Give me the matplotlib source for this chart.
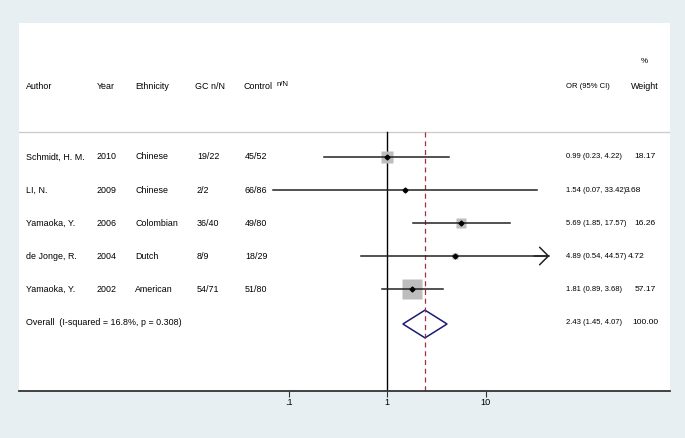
import numpy as np
import matplotlib
matplotlib.use("Agg")
import matplotlib.pyplot as plt
from matplotlib import font_manager
from matplotlib.transforms import blended_transform_factory

plt.rcParams['font.family'] = ['Liberation Sans', 'DejaVu Sans']

authors = ["Schmidt, H. M.", "LI, N.", "Yamaoka, Y.", "de Jonge, R.", "Yamaoka, Y."]
years = ["2010", "2009", "2006", "2004", "2002"]
ethnicity = ["Chinese", "Chinese", "Colombian", "Dutch", "American"]
gc_nN = ["19/22", "2/2", "36/40", "8/9", "54/71"]
ctrl_nN = ["45/52", "66/86", "49/80", "18/29", "51/80"]
odds = [0.99, 1.54, 5.69, 4.89, 1.81]
ci_lo = [0.23, 0.07, 1.85, 0.54, 0.89]
ci_hi = [4.22, 33.42, 17.57, 44.57, 3.68]
weights = [18.17, 3.68, 16.26, 4.72, 57.17]
arrow_right = [False, False, False, True, False]

overall_label = "Overall  (I-squared = 16.8%, p = 0.308)"
overall_or, overall_lo, overall_hi = 2.43, 1.45, 4.07
overall_weight = 100.00

xticks = [0.1, 1, 10]
xticklabels = [".1", "1", "10"]

# x pixel of the weight text on each row (it follows the CI text)
weight_px = [634, 625, 634, 628, 635]
overall_weight_px = 632

# narrower face for the CI column if there is one
or_family = ['Liberation Sans']
fs_or = 5.5
try:
    font_manager.findfont(font_manager.FontProperties(family='Liberation Sans Narrow'),
                          fallback_to_default=False)
    or_family = ['Liberation Sans Narrow']
    fs_or = 6.3
except ValueError:
    pass

bg = '#e8eff2'
fig = plt.figure(figsize=(6.85, 4.38), dpi=100, facecolor=bg)
ax = fig.add_axes([19/685, 47/438, 651/685, 368/438])
ax.set_facecolor('white')
ax.set_xscale('log')
ax.set_xlim(10**-3.736, 10**2.873)
ax.set_ylim(7.09, -4.06)
for s in ['top', 'left', 'right']:
    ax.spines[s].set_visible(False)
ax.spines['bottom'].set_color('#333333')
ax.spines['bottom'].set_linewidth(1.3)
ax.set_yticks([])
ax.set_xticks(xticks)
ax.set_xticklabels(xticklabels, fontsize=6.6)
ax.minorticks_off()
ax.tick_params(axis='x', length=4, width=0.8, color='#333333', pad=1)

tr = blended_transform_factory(ax.transAxes, ax.transData)
def col(px):
    return (px - 19) / 651.0

fs = 6.4
# header
hdr_y = -2.15
ax.text(col(26), hdr_y, "Author", transform=tr, fontsize=fs, va='center')
ax.text(col(97), hdr_y, "Year", transform=tr, fontsize=fs, va='center')
ax.text(col(135), hdr_y, "Ethnicity", transform=tr, fontsize=fs, va='center')
ax.text(col(195), hdr_y, "GC n/N", transform=tr, fontsize=fs, va='center')
ax.text(col(244), hdr_y, "Control", transform=tr, fontsize=fs, va='center')
ax.text(col(277), hdr_y - 0.05, "n/N", transform=tr, fontsize=fs - 0.8, va='center')
ax.text(col(566), hdr_y, "OR (95% CI)", transform=tr, fontsize=fs_or, va='center',
        family=or_family)
ax.text(col(631), hdr_y, "Weight", transform=tr, fontsize=fs, va='center')
ax.text(col(644), -2.88, "%", transform=tr, fontsize=fs - 0.6, va='center', ha='center')

ax.plot([0, 1], [-0.76, -0.76], transform=tr, color='#cccccc', lw=1)

ax.plot([1, 1], [-0.76, 7.09], color='black', lw=1)
ax.plot([overall_or, overall_or], [-0.76, 7.09], color='#a03040', lw=0.9, ls=(0, (4, 3)))

for i in range(len(authors)):
    y = i
    ax.text(col(26), y, authors[i], transform=tr, fontsize=fs, va='center')
    ax.text(col(97), y, years[i], transform=tr, fontsize=fs, va='center')
    ax.text(col(135), y, ethnicity[i], transform=tr, fontsize=fs, va='center')
    ax.text(col(197), y, gc_nN[i], transform=tr, fontsize=fs, va='center')
    ax.text(col(245), y, ctrl_nN[i], transform=tr, fontsize=fs, va='center')
    ax.text(col(566), y, "%.2f (%.2f, %.2f)" % (odds[i], ci_lo[i], ci_hi[i]),
            transform=tr, fontsize=fs_or, va='center', family=or_family)
    ax.text(col(weight_px[i]), y, "%.2f" % weights[i], transform=tr, fontsize=fs - 0.3,
            va='center')
    ax.plot(odds[i], y, marker='s', ms=1.86 * np.sqrt(weights[i]), color='#bdbdbd',
            mec='none', zorder=2)
    ax.plot([ci_lo[i], ci_hi[i]], [y, y], color='#222222', lw=1.1, zorder=3)
    if arrow_right[i]:
        ax.annotate('', xy=(ci_hi[i], y), xytext=(ci_hi[i] * 0.7, y),
                    arrowprops=dict(arrowstyle='->, head_length=0.45, head_width=0.45',
                                    lw=1.1, color='#222222', shrinkA=0, shrinkB=0,
                                    mutation_scale=14), zorder=3)
    ax.plot(odds[i], y, marker='D', ms=2.5, color='black', zorder=4)

yo = len(authors)
ax.text(col(26), yo, overall_label, transform=tr, fontsize=fs, va='center')
ax.text(col(566), yo, "%.2f (%.2f, %.2f)" % (overall_or, overall_lo, overall_hi),
        transform=tr, fontsize=fs_or, va='center', family=or_family)
ax.text(col(overall_weight_px), yo, "%.2f" % overall_weight, transform=tr,
        fontsize=fs - 0.3, va='center')
yd = yo + 0.06
ax.fill([overall_lo, overall_or, overall_hi, overall_or, overall_lo],
        [yd, yd - 0.42, yd, yd + 0.42, yd], facecolor='none', edgecolor='#1a1a7a', lw=1.1)

fig.savefig("out.png", dpi=100, facecolor=bg)
